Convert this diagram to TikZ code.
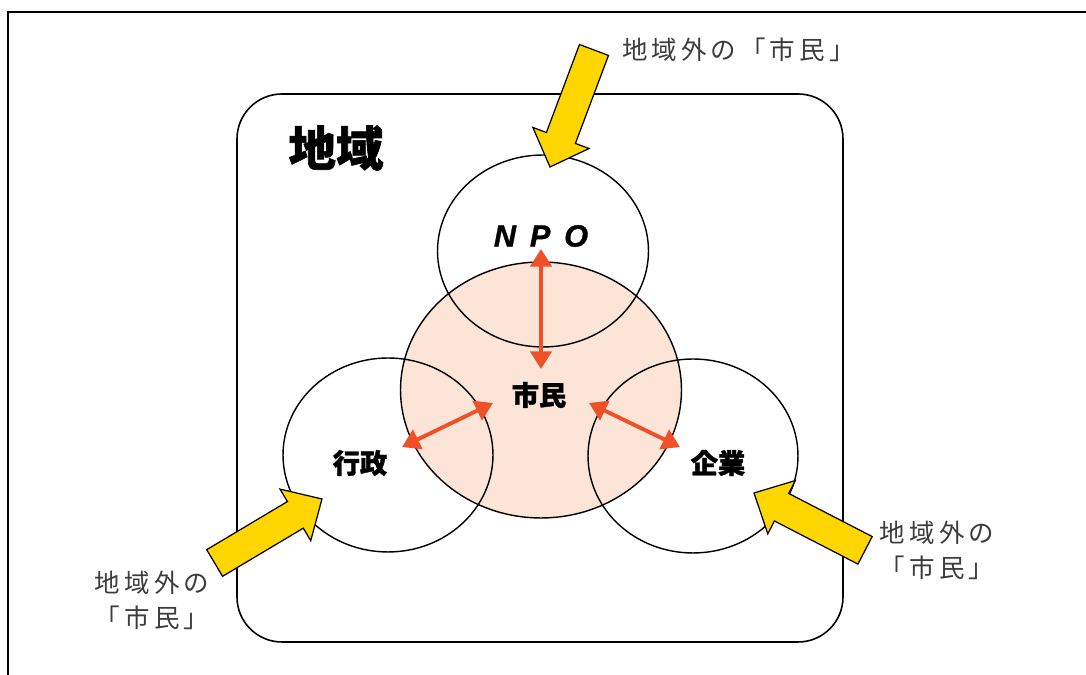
\documentclass[tikz,border=0pt]{standalone}
\usepackage{fontspec}
\usepackage{tikz}
\usetikzlibrary{arrows.meta,shapes.geometric}
\newfontfamily\jp[BoldFeatures={FakeBold=1.3}]{Noto Sans CJK JP}
\newfontfamily\jplabel[LetterSpace=16]{Noto Sans CJK JP}
\newfontfamily\npo[BoldItalicFeatures={FakeBold=1}]{Liberation Sans}
\definecolor{peach}{RGB}{252,228,214}
\definecolor{arrowred}{RGB}{240,80,40}
\definecolor{gold}{RGB}{255,214,0}
\definecolor{labelgray}{RGB}{60,60,60}
\tikzset{
  sector/.style={ellipse, draw, line width=0.8pt},
  bigword/.style={font=\jp\bfseries\fontsize{27}{30}\selectfont},
  word/.style={font=\jp\bfseries\fontsize{15.5}{18}\selectfont},
  outside/.style={font=\jplabel\fontsize{14.5}{20}\selectfont, text=labelgray, align=center},
  link/.style={arrowred, line width=2.2pt, {Triangle[width=12pt,length=10pt]}-{Triangle[width=12pt,length=10pt]}},
  inflow/.style={draw, fill=gold, line width=0.7pt, line join=miter}
}
% yellow block arrow: tip and direction
\newcommand{\inarrow}[2]{
  \begin{scope}[shift={#1}, rotate=#2]
    \draw[inflow] (0,0) -- (-31,30) -- (-31,15.5) -- (-125,15.5) -- (-125,-15.5) -- (-31,-15.5) -- (-31,-30) -- cycle;
  \end{scope}
}
\begin{document}
\begin{tikzpicture}[x=0.02cm,y=0.02cm]
  \useasboundingbox (0,0) rectangle (1086,675);
  % Frame
  \draw[line width=1.1pt] (8,0) -- (8,663) -- (1086,663);
  \draw[line width=0.9pt, rounded corners=0.9cm] (237,33) rectangle (843,581);
  \node[bigword] (region) at (336,527) {地域};
  % Circles
  \node[sector, fill=peach, minimum width=5.62cm, minimum height=5.12cm] (citizen) at (541,285) {};
  \node[sector, minimum width=4.22cm, minimum height=3.84cm] (npoc) at (543,424) {};
  \node[sector, minimum width=4.2cm, minimum height=3.88cm] (govc) at (388,220) {};
  \node[sector, minimum width=4.2cm, minimum height=3.88cm] (bizc) at (693,219) {};
  % Names
  \node[font=\npo\bfseries\itshape\fontsize{17.5}{20}\selectfont] (npo) at (541,439) {N\hspace{0.45em}P\hspace{0.45em}O};
  \node[word] (shimin) at (539,280) {市民};
  \node[word] (gyosei) at (360,212) {行政};
  \node[word] (kigyo) at (718,212) {企業};
  % Links
  \coordinate (n1) at (541,426);
  \coordinate (n2) at (541,306);
  \coordinate (g1) at (402,228);
  \coordinate (g2) at (493,272);
  \coordinate (k1) at (589,272);
  \coordinate (k2) at (680,228);
  \draw[link] (n1) -- (n2);
  \draw[link] (g1) -- (g2);
  \draw[link] (k1) -- (k2);
  % Inflows
  \inarrow{(550,508)}{249.4}
  \inarrow{(322,176)}{30.8}
  \inarrow{(754,182)}{152.7}
  \node[outside, anchor=west] (outtop) at (616,625) {地域外の「市民」};
  \node[outside] (outleft) at (152,75) {地域外の\\「市民」};
  \node[outside] (outright) at (937,125) {地域外の\\「市民」};
\end{tikzpicture}
\end{document}
